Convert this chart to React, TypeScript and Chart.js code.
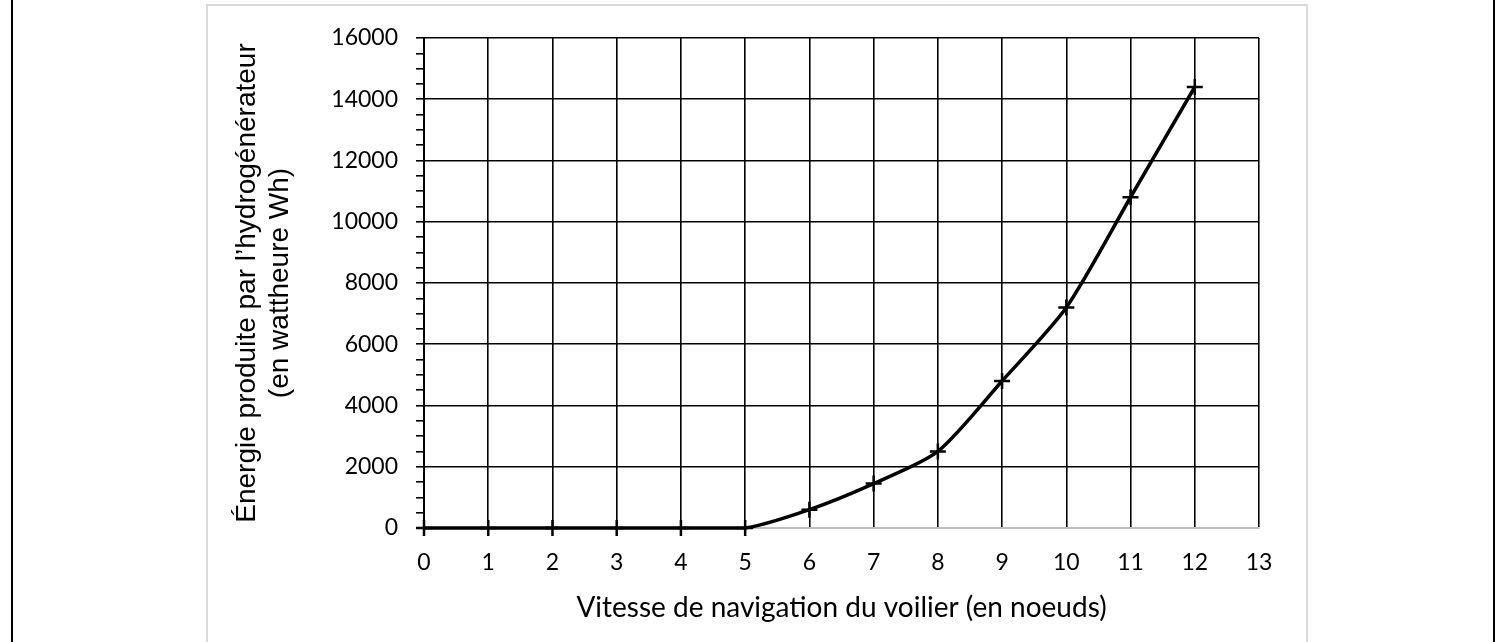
import React, { useEffect, useRef } from "react";
import { Chart, registerables } from "chart.js";

Chart.register(...registerables);

const speeds = [0, 1, 2, 3, 4, 5, 6, 7, 8, 9, 10, 11, 12];
const energies = [0, 0, 0, 0, 0, 0, 600, 1450, 2500, 4800, 7200, 10800, 14400];
const xTitle = "Vitesse de navigation du voilier (en noeuds)";
const yTitle = ["Énergie produite par l’hydrogénérateur", "(en wattheure Wh)"];

const W = 1498;
const H = 642;

export default function App() {
  const ref = useRef<HTMLCanvasElement>(null);

  useEffect(() => {
    if (!ref.current) return;
    const chart = new Chart(ref.current, {
      type: "line",
      data: {
        datasets: [
          {
            data: speeds.map((s, i) => ({ x: s, y: energies[i] })),
            borderColor: "#000",
            borderWidth: 3.5,
            tension: 0.25,
            pointStyle: "cross",
            pointRadius: 8,
            pointBorderWidth: 2.5,
            pointBorderColor: "#000",
            clip: false,
          } as any,
        ],
      },
      options: {
        responsive: false,
        animation: false,
        devicePixelRatio: 1,
        layout: { padding: { left: 0, top: 38, right: 239, bottom: 0 } },
        plugins: { legend: { display: false }, tooltip: { enabled: false } },
        scales: {
          x: {
            type: "linear",
            min: 0,
            max: 13,
            ticks: {
              stepSize: 1,
              color: "#000",
              padding: 21,
              font: { family: "Lato", size: 23 },
            },
            grid: { color: "#000", lineWidth: 1.6, drawTicks: false },
            border: { color: "#bfbfbf", width: 2 },
            title: {
              display: true,
              text: xTitle,
              color: "#000",
              font: { family: "Lato", size: 28 },
              padding: { top: 0, bottom: 17 },
            },
            afterFit: (s: any) => {
              s.height = H - 528;
            },
          },
          y: {
            type: "linear",
            min: 0,
            max: 16000,
            ticks: {
              stepSize: 500,
              autoSkip: false,
              color: "#000",
              padding: 18,
              font: { family: "Lato", size: 23 },
              callback: (v: any) => (Number(v) % 2000 === 0 ? String(v) : ""),
            },
            grid: {
              color: (c: any) =>
                c.tick && c.tick.value % 2000 === 0
                  ? c.tick.value === 0
                    ? "#bfbfbf"
                    : "#000"
                  : "rgba(0,0,0,0)",
              tickColor: "#000",
              lineWidth: (c: any) => (c.tick && c.tick.value === 0 ? 2 : 1.6),
              tickWidth: 1.6,
              tickLength: 8,
            },
            border: { color: "#000", width: 2 },
            title: {
              display: true,
              text: yTitle,
              color: "#000",
              font: { family: "'Liberation Sans', Arial", size: 28, lineHeight: 1.18 },
              padding: { top: 231, bottom: 0 },
            },
            afterFit: (s: any) => {
              s.width = 424;
            },
          },
        },
      },
    });
    return () => chart.destroy();
  }, []);

  return (
    <div
      style={{
        position: "fixed",
        left: 0,
        top: 0,
        width: W,
        height: H,
        background: "#fff",
        overflow: "hidden",
      }}
    >
      <div style={{ position: "absolute", left: 11, top: 0, width: 2, height: H, background: "#000" }} />
      <div style={{ position: "absolute", left: 1493, top: 0, width: 2, height: H, background: "#000" }} />
      <div
        style={{
          position: "absolute",
          left: 206,
          top: 4,
          width: 1098,
          height: 700,
          border: "2px solid #d9d9d9",
        }}
      />
      <canvas ref={ref} width={W} height={H} style={{ position: "absolute", left: 0, top: 0 }} />
    </div>
  );
}
